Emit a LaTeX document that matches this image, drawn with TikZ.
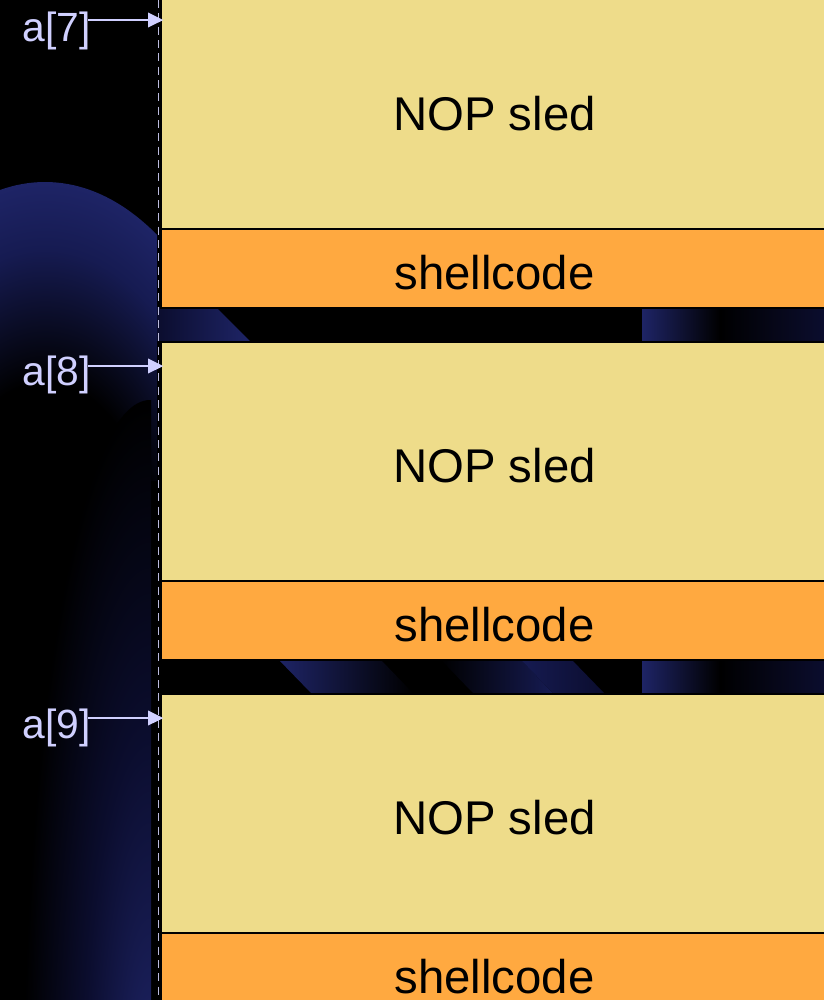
\documentclass[tikz,border=0pt]{standalone}
\usepackage{fontspec}
\setmainfont{Liberation Sans}
\usetikzlibrary{arrows.meta}
\definecolor{nopc}{HTML}{EEDC8A}
\definecolor{shellc}{HTML}{FFA940}
\definecolor{lav}{HTML}{D0D0FF}
\definecolor{navy}{HTML}{1E2466}
\definecolor{navyb}{HTML}{161B52}
\definecolor{navyc}{HTML}{0B0D2E}
\pgfdeclareradialshading{archring}{\pgfpoint{0bp}{0bp}}{color(0bp)=(black); color(13bp)=(black); color(21bp)=(navyb); color(25bp)=(navy); color(50bp)=(navy)}
\pgfdeclareradialshading{glowsh}{\pgfpoint{0bp}{0bp}}{color(0bp)=(navy); color(13bp)=(navyc); color(25bp)=(black); color(50bp)=(black)}
\tikzset{
 box/.style={draw=black, line width=1.5pt, rectangle, inner sep=0pt, minimum width=500.25pt, anchor=north west, font=\fontsize{35.5pt}{40pt}\selectfont, text height=30.75pt, text depth=0pt},
 nopbox/.style={box, fill=nopc, minimum height=179.25pt},
 shellbox/.style={box, fill=shellc, minimum height=59.25pt},
 idx/.style={text=lav, font=\fontsize{30.6pt}{34pt}\selectfont, inner sep=0pt, anchor=base east},
 ptr/.style={draw=lav, line width=1.5pt, -{Triangle[length=11.5pt,width=11pt]}, shorten >=-2.5pt},
 guide/.style={draw=lav!75!gray, line width=1pt, dash pattern=on 6pt off 4pt}
}
\begin{document}
\begin{tikzpicture}[x=0.75pt,y=-0.75pt]
\useasboundingbox (0,0) rectangle (824,1000);
\begin{scope}
\clip (0,0) rectangle (824,1000);
\fill[black] (0,0) rectangle (824,1000);
% background swoosh: upper arch
\begin{scope}
\clip (0,0) rectangle (157,480);
\shade[shading=archring] (45,600) ellipse [x radius=172.5pt, y radius=313.5pt];
\end{scope}
% lower glow
\begin{scope}
\clip (0,380) rectangle (151,1000);
\shade[shading=glowsh] (150,1100) ellipse [x radius=95pt, y radius=525pt];
\end{scope}
% bands visible in the gaps
\shade[left color=navyc, right color=navy] (157,307) -- (216,307) -- (250,341) -- (157,341) -- cycle;
\shade[left color=navy, right color=black] (642,307) rectangle (720,341);
\shade[left color=black, right color=navyc] (720,307) rectangle (824,341);
\shade[left color=navy, right color=black] (278,659) -- (380,659) -- (413,693) -- (311,693) -- cycle;
\shade[left color=black, right color=navyb] (440,659) -- (520,659) -- (553,693) -- (473,693) -- cycle;
\shade[left color=navyb, right color=navyc] (520,659) -- (571,659) -- (604,693) -- (553,693) -- cycle;
\shade[left color=navy, right color=black] (642,659) rectangle (720,693);
\shade[left color=black, right color=navyc] (720,659) rectangle (824,693);
% dashed guide
\coordinate (gtop) at (158.5,0);
\coordinate (gbot) at (158.5,1000);
\draw[guide] (gtop) -- (gbot);
% memory blocks
\node[nopbox] (nop7) at (160,-11) {NOP sled};
\node[shellbox] (sh7) at (160,228) {shellcode};
\node[nopbox] (nop8) at (160,341) {NOP sled};
\node[shellbox] (sh8) at (160,580) {shellcode};
\node[nopbox] (nop9) at (160,693) {NOP sled};
\node[shellbox] (sh9) at (160,932) {shellcode};
% pointers
\node[idx] (l7) at (91,41) {a[7]};
\node[idx] (l8) at (91,385) {a[8]};
\node[idx] (l9) at (91,738) {a[9]};
\coordinate (s7) at (88,20);
\coordinate (s8) at (88,366);
\coordinate (s9) at (88,718);
\draw[ptr] (s7) -- (s7 -| nop7.west);
\draw[ptr] (s8) -- (s8 -| nop8.west);
\draw[ptr] (s9) -- (s9 -| nop9.west);
\end{scope}
\end{tikzpicture}
\end{document}
